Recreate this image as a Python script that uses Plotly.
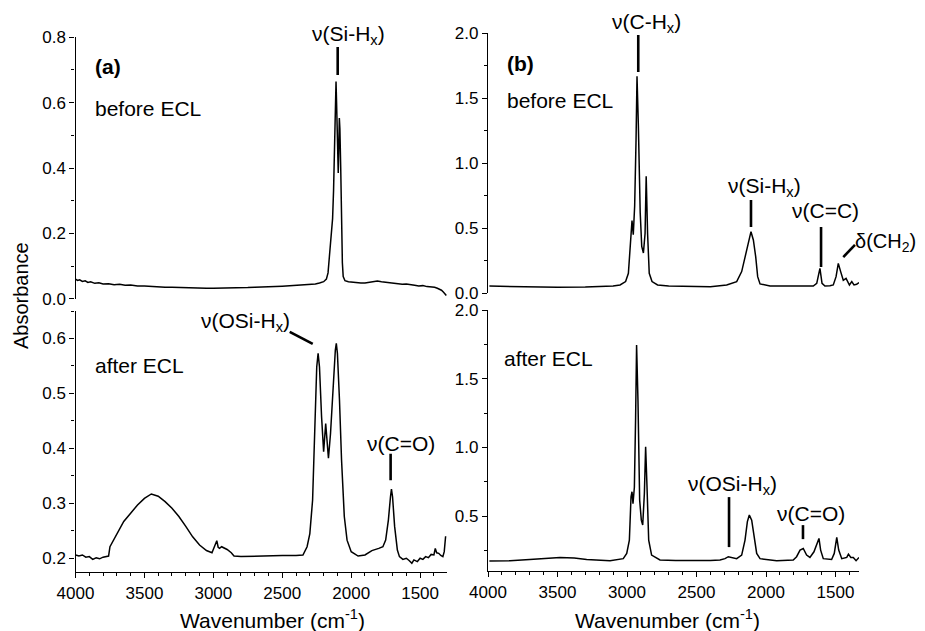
import plotly.graph_objects as go

# ---------------- data ----------------
# (a) before ECL
wn_a_before = [4000, 3985, 3970, 3950, 3930, 3910, 3890, 3860, 3830, 3800, 3760, 3720, 3680,
               3640, 3600, 3550, 3500, 3450, 3400, 3350, 3300, 3250, 3200, 3150, 3100, 3050,
               3000, 2950, 2900, 2850, 2800, 2750, 2700, 2650, 2600, 2550, 2500, 2450, 2400,
               2350, 2300, 2260, 2230, 2200, 2180, 2168, 2158, 2149, 2140, 2135, 2128, 2122,
               2115, 2110, 2106, 2102, 2098, 2094, 2090, 2086, 2082, 2076, 2070, 2064, 2058,
               2045, 2020, 1990, 1960, 1930, 1900, 1870, 1840, 1810, 1780, 1750, 1720, 1690,
               1660, 1630, 1600, 1570, 1540, 1510, 1480, 1450, 1420, 1395, 1375, 1360, 1345,
               1330, 1318, 1310]
abs_a_before = [0.060, 0.056, 0.058, 0.053, 0.055, 0.050, 0.052, 0.047, 0.049, 0.045, 0.046,
                0.043, 0.044, 0.041, 0.042, 0.039, 0.039, 0.037, 0.037, 0.035, 0.035, 0.034,
                0.034, 0.033, 0.033, 0.032, 0.032, 0.032, 0.033, 0.033, 0.034, 0.034, 0.035,
                0.035, 0.036, 0.037, 0.038, 0.039, 0.040, 0.041, 0.043, 0.045, 0.048, 0.052,
                0.060, 0.079, 0.130, 0.180, 0.225, 0.245, 0.330, 0.450, 0.600, 0.665, 0.600,
                0.500, 0.440, 0.385, 0.460, 0.553, 0.520, 0.400, 0.220, 0.110, 0.068, 0.055,
                0.052, 0.050, 0.049, 0.048, 0.048, 0.050, 0.052, 0.054, 0.052, 0.050, 0.049,
                0.047, 0.046, 0.044, 0.045, 0.042, 0.041, 0.039, 0.040, 0.037, 0.036, 0.035,
                0.032, 0.030, 0.026, 0.020, 0.015, 0.010]

# (a) after ECL
wn_a_after = [4000, 3975, 3950, 3925, 3900, 3875, 3850, 3825, 3800, 3775, 3760, 3750, 3735,
              3720, 3700, 3680, 3650, 3600, 3550, 3500, 3450, 3400, 3350, 3300, 3250, 3200,
              3150, 3100, 3050, 3010, 2990, 2975, 2965, 2955, 2940, 2925, 2900, 2870, 2850,
              2800, 2700, 2600, 2500, 2400, 2350, 2320, 2300, 2280, 2265, 2250, 2240, 2230,
              2215, 2200, 2185, 2175, 2165, 2150, 2130, 2115, 2108, 2100, 2085, 2070, 2050,
              2030, 2000, 1950, 1900, 1850, 1800, 1770, 1750, 1730, 1715, 1708, 1700, 1685,
              1665, 1650, 1625, 1600, 1580, 1560, 1545, 1520, 1500, 1480, 1460, 1440, 1420,
              1400, 1390, 1380, 1365, 1350, 1335, 1325, 1315]
abs_a_after = [0.206, 0.204, 0.206, 0.202, 0.203, 0.198, 0.201, 0.199, 0.202, 0.203, 0.204,
               0.221, 0.228, 0.233, 0.242, 0.251, 0.267, 0.282, 0.297, 0.309, 0.317, 0.313,
               0.303, 0.291, 0.276, 0.258, 0.239, 0.224, 0.214, 0.210, 0.221, 0.232, 0.220,
               0.218, 0.221, 0.219, 0.216, 0.210, 0.204, 0.203, 0.204, 0.204, 0.205, 0.205,
               0.206, 0.221, 0.245, 0.306, 0.427, 0.548, 0.573, 0.548, 0.458, 0.394, 0.445,
               0.415, 0.382, 0.427, 0.518, 0.579, 0.591, 0.573, 0.488, 0.379, 0.276, 0.233,
               0.212, 0.204, 0.206, 0.214, 0.218, 0.221, 0.233, 0.270, 0.312, 0.326, 0.312,
               0.258, 0.215, 0.203, 0.198, 0.200, 0.196, 0.191, 0.197, 0.194, 0.200, 0.198,
               0.203, 0.201, 0.207, 0.206, 0.218, 0.210, 0.209, 0.205, 0.203, 0.212, 0.240]

# (b) before ECL
wn_b_before = [3990, 3800, 3500, 3300, 3100, 3050, 3010, 2990, 2975, 2964, 2955, 2945, 2935,
               2928, 2918, 2905, 2894, 2882, 2870, 2862, 2852, 2840, 2820, 2780, 2700, 2550,
               2400, 2283, 2211, 2175, 2144, 2120, 2108, 2091, 2074, 2060, 2043, 1971, 1880,
               1804, 1700, 1660, 1635, 1612, 1597, 1576, 1540, 1516, 1496, 1480, 1463, 1444,
               1424, 1400, 1383, 1367, 1348, 1330]
abs_b_before = [0.056, 0.052, 0.046, 0.048, 0.056, 0.064, 0.090, 0.154, 0.410, 0.560, 0.450,
                0.670, 1.180, 1.670, 1.280, 0.620, 0.360, 0.310, 0.460, 0.900, 0.460, 0.154,
                0.090, 0.064, 0.056, 0.052, 0.051, 0.064, 0.090, 0.167, 0.310, 0.436, 0.474,
                0.410, 0.280, 0.128, 0.072, 0.056, 0.055, 0.056, 0.056, 0.056, 0.077, 0.192,
                0.077, 0.056, 0.058, 0.064, 0.128, 0.230, 0.167, 0.100, 0.115, 0.064, 0.090,
                0.064, 0.070, 0.082]

# (b) after ECL
wn_b_after = [3990, 3842, 3700, 3602, 3482, 3380, 3290, 3122, 3027, 3002, 2983, 2971, 2964,
              2957, 2947, 2938, 2931, 2921, 2909, 2897, 2887, 2875, 2866, 2856, 2844, 2823,
              2763, 2650, 2523, 2400, 2331, 2295, 2271, 2245, 2211, 2175, 2151, 2134, 2120,
              2103, 2084, 2067, 2043, 1923, 1804, 1780, 1755, 1732, 1708, 1684, 1655, 1631,
              1619, 1607, 1588, 1528, 1509, 1491, 1477, 1455, 1419, 1407, 1390, 1372, 1352,
              1331]
abs_b_after = [0.172, 0.175, 0.184, 0.190, 0.199, 0.195, 0.184, 0.175, 0.190, 0.228, 0.325,
               0.640, 0.677, 0.590, 0.710, 1.220, 1.745, 1.340, 0.617, 0.470, 0.435, 0.665,
               1.005, 0.710, 0.325, 0.216, 0.180, 0.177, 0.175, 0.176, 0.180, 0.190, 0.204,
               0.196, 0.190, 0.216, 0.325, 0.460, 0.507, 0.470, 0.350, 0.228, 0.190, 0.175,
               0.180, 0.204, 0.252, 0.264, 0.216, 0.199, 0.240, 0.313, 0.337, 0.252, 0.190,
               0.184, 0.228, 0.345, 0.252, 0.190, 0.199, 0.223, 0.199, 0.199, 0.175, 0.199]

y_ticks_a_top = [0.0, 0.2, 0.4, 0.6, 0.8]
y_ticks_a_bot = [0.2, 0.3, 0.4, 0.5, 0.6]
y_ticks_b_top = [0.0, 0.5, 1.0, 1.5, 2.0]
y_ticks_b_bot = [0.5, 1.0, 1.5, 2.0]
x_ticks = [4000, 3500, 3000, 2500, 2000, 1500]

# ---------------- figure ----------------
# The page body has an 8 px margin, so the figure is drawn 8 px in from the
# window's top-left corner; size it so it exactly fills the 925x631 window.
OFF = 8
W, H = 925 - OFF, 631 - OFF
FONT = "Liberation Sans, Arial, sans-serif"


def px_x(px):
    return (px - OFF) / W


def px_y(py):
    return 1 - (py - OFF) / H


def dx(a, b):
    return [px_x(a), px_x(b)]


def dy(top, bottom):
    return [px_y(bottom), px_y(top)]


fig = go.Figure()
line_style = dict(color="black", width=1.5)
for xs, ys, xa, ya in [(wn_a_before, abs_a_before, "x", "y"),
                       (wn_a_after, abs_a_after, "x2", "y2"),
                       (wn_b_before, abs_b_before, "x3", "y3"),
                       (wn_b_after, abs_b_after, "x4", "y4")]:
    fig.add_trace(go.Scatter(x=xs, y=ys, xaxis=xa, yaxis=ya, mode="lines",
                             line=line_style, showlegend=False, hoverinfo="skip"))

tickfont = dict(family=FONT, size=17, color="black")
hidden_x = dict(showline=False, showticklabels=False, ticks="", showgrid=False, zeroline=False,
                automargin=False)
shown_x = dict(showline=True, linecolor="black", linewidth=1.3, ticks="outside", ticklen=5,
               tickwidth=1.3, tickcolor="black", tickvals=x_ticks, tickfont=tickfont,
               showgrid=False, zeroline=False, automargin=False,
               minor=dict(dtick=100, ticklen=3, tickcolor="black", tickwidth=1, ticks="outside"))


def yax(domain, rng, vals, minor, anchor):
    return dict(domain=domain, range=rng, anchor=anchor, showline=True, linecolor="black",
                linewidth=1.3, ticks="outside", ticklen=5, tickwidth=1.3, tickcolor="black",
                tickvals=vals, tickformat=".1f", tickfont=tickfont, showgrid=False,
                zeroline=False, automargin=False,
                minor=dict(dtick=minor, ticklen=3, tickcolor="black", tickwidth=1, ticks="outside"))


fig.update_layout(
    width=W, height=H,
    margin=dict(l=0, r=0, t=0, b=0, autoexpand=False),
    paper_bgcolor="white", plot_bgcolor="white",
    font=dict(family=FONT, color="black"),
    xaxis=dict(domain=dx(75.5, 447), range=[4000, 1305], anchor="y", **hidden_x),
    yaxis=yax(dy(37.3, 298.7), [0, 0.8], y_ticks_a_top, 0.1, "x"),
    xaxis2=dict(domain=dx(75.5, 447), range=[4000, 1305], anchor="y2", **shown_x),
    yaxis2=yax(dy(311, 572), [0.175, 0.65], y_ticks_a_bot, 0.05, "x2"),
    xaxis3=dict(domain=dx(488, 859), range=[4000, 1331], anchor="y3", **hidden_x),
    yaxis3=yax(dy(33.3, 293.3), [0, 2.0], y_ticks_b_top, 0.25, "x3"),
    xaxis4=dict(domain=dx(488, 859), range=[4000, 1331], anchor="y4", **shown_x),
    yaxis4=yax(dy(310, 571), [0.1, 2.0], y_ticks_b_bot, 0.25, "x4"),
)

# label marker lines (data coordinates)
marks = [("x", "y", 2098, 0.685, 2098, 0.77),
         ("x2", "y2", 2446, 0.612, 2279, 0.590),
         ("x2", "y2", 1714, 0.390, 1714, 0.342),
         ("x3", "y3", 2919, 1.987, 2919, 1.702),
         ("x3", "y3", 2108, 0.718, 2108, 0.510),
         ("x3", "y3", 1604, 0.510, 1604, 0.202),
         ("x3", "y3", 1444, 0.279, 1360, 0.372),
         ("x4", "y4", 2266, 0.638, 2266, 0.274),
         ("x4", "y4", 1734, 0.434, 1734, 0.332)]
for xr, yr, x0, y0, x1, y1 in marks:
    fig.add_shape(type="line", xref=xr, yref=yr, x0=x0, y0=y0, x1=x1, y1=y1,
                  line=dict(color="black", width=2.6))

# text labels (window pixel positions converted to paper coordinates)
texts = [
    ("ν(Si-H<sub>x</sub>)", 348, 35, "center", False, 21),
    ("(a)", 93, 67, "left", True, 21),
    ("before ECL", 93, 108, "left", False, 21),
    ("ν(OSi-H<sub>x</sub>)", 245, 322, "center", False, 21),
    ("after ECL", 93, 365, "left", False, 21),
    ("ν(C=O)", 401, 443, "center", False, 21),
    ("(b)", 505, 63, "left", True, 21),
    ("before ECL", 505, 100, "left", False, 21),
    ("ν(C-H<sub>x</sub>)", 646, 23, "center", False, 21),
    ("ν(Si-H<sub>x</sub>)", 764, 187, "center", False, 21),
    ("ν(C=C)", 825, 210, "center", False, 21),
    ("δ(CH<sub>2</sub>)", 918, 243, "right", False, 20),
    ("after ECL", 502, 358, "left", False, 21),
    ("ν(OSi-H<sub>x</sub>)", 732, 485, "center", False, 21),
    ("ν(C=O)", 811, 513, "center", False, 21),
    ("Wavenumber (cm<sup>-1</sup>)", 272, 619, "center", False, 21),
    ("Wavenumber (cm<sup>-1</sup>)", 667, 619, "center", False, 21),
]
for t, px, py, xa, bold, fs in texts:
    fig.add_annotation(text=("<b>%s</b>" % t) if bold else t, xref="paper", yref="paper",
                       x=px_x(px), y=px_y(py), xanchor=xa, yanchor="middle",
                       showarrow=False, font=dict(family=FONT, size=fs, color="black"))

fig.add_annotation(text="Absorbance", xref="paper", yref="paper", x=px_x(21), y=px_y(296),
                   xanchor="center", yanchor="middle", textangle=-90, showarrow=False,
                   font=dict(family=FONT, size=20, color="black"))

fig.write_html("out.html")
